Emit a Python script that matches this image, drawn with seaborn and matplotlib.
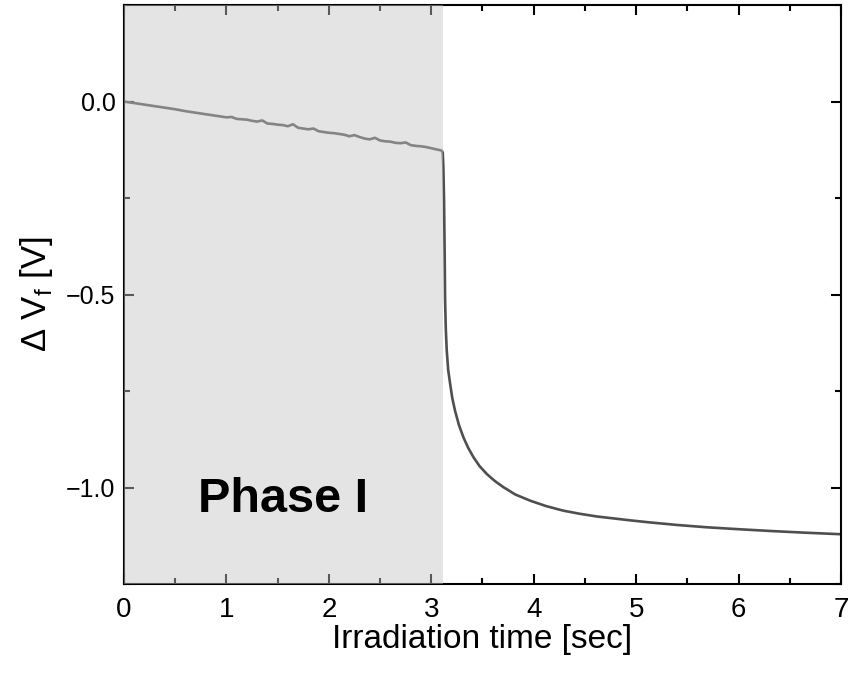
import numpy as np
import pandas as pd
import matplotlib
matplotlib.use("Agg")
import matplotlib.pyplot as plt
from matplotlib.ticker import MultipleLocator
import seaborn as sns

# ---- data ----
time_s = [0.00, 0.10, 0.20, 0.30, 0.40, 0.50, 0.60, 0.70, 0.80, 0.90,
          1.00, 1.05, 1.10, 1.15, 1.20, 1.25, 1.30, 1.35, 1.40, 1.45,
          1.50, 1.55, 1.60, 1.65, 1.70, 1.75, 1.80, 1.85, 1.90, 1.95,
          2.00, 2.05, 2.10, 2.15, 2.20, 2.25, 2.30, 2.35, 2.40, 2.45,
          2.50, 2.55, 2.60, 2.65, 2.70, 2.75, 2.80, 2.85, 2.90, 2.95,
          3.00, 3.05, 3.10,
          3.112, 3.118, 3.125, 3.131, 3.135, 3.142, 3.151, 3.165, 3.184, 3.205,
          3.232, 3.27, 3.314, 3.36, 3.411, 3.47, 3.542, 3.62, 3.704, 3.82,
          3.965, 4.12, 4.29, 4.45, 4.616, 4.78, 4.941, 5.12, 5.40, 5.69,
          6.00, 6.34, 6.65, 7.00]
delta_vf = [0.000, -0.004, -0.008, -0.012, -0.016, -0.020, -0.025, -0.029, -0.033, -0.037,
            -0.041, -0.040, -0.045, -0.046, -0.047, -0.050, -0.052, -0.049, -0.057, -0.058,
            -0.060, -0.061, -0.064, -0.059, -0.068, -0.070, -0.072, -0.070, -0.077, -0.079,
            -0.081, -0.082, -0.084, -0.086, -0.090, -0.087, -0.092, -0.096, -0.098, -0.094,
            -0.101, -0.103, -0.104, -0.107, -0.108, -0.106, -0.113, -0.115, -0.116, -0.118,
            -0.121, -0.124, -0.127,
            -0.132, -0.170, -0.260, -0.400, -0.516, -0.590, -0.645, -0.695, -0.731, -0.768,
            -0.801, -0.838, -0.870, -0.897, -0.921, -0.944, -0.965, -0.983, -0.999, -1.018,
            -1.034, -1.048, -1.060, -1.068, -1.075, -1.080, -1.085, -1.090, -1.097, -1.103,
            -1.108, -1.113, -1.117, -1.121]

phase1_end = 3.115
x_ticks = [0, 1, 2, 3, 4, 5, 6, 7]
y_ticks = [0.0, -0.5, -1.0]
y_tick_labels = ["0.0", "\u22120.5", "\u22121.0"]

df = pd.DataFrame({"t": time_s, "dv": delta_vf})

sns.set_theme(style="ticks")
plt.rcParams["font.family"] = ["Liberation Sans", "DejaVu Sans"]
plt.rcParams["mathtext.fontset"] = "custom"
plt.rcParams["mathtext.rm"] = "Liberation Sans"

fig = plt.figure(figsize=(8.49, 6.78), dpi=100)
ax = fig.add_axes([0.146, 0.1386, 0.8446, 0.854])

sns.lineplot(data=df, x="t", y="dv", ax=ax, color="#4f4f4f", linewidth=1.9,
             estimator=None, sort=False, zorder=2)

ax.axvspan(0, phase1_end, color="#c4c4c4", alpha=0.454, lw=0, zorder=3)

ax.text(1.55, -1.03, "Phase I", fontsize=35, fontweight="bold",
        ha="center", va="center", color="black", zorder=4)

ax.set_xlim(0, 7)
ax.set_ylim(-1.25, 0.25)
ax.set_xticks(x_ticks)
ax.set_xticklabels([str(v) for v in x_ticks], fontsize=20, color="black")
ax.set_yticks(y_ticks)
ax.set_yticklabels(y_tick_labels, fontsize=18, color="black")
ax.xaxis.set_minor_locator(MultipleLocator(0.5))
ax.yaxis.set_minor_locator(MultipleLocator(0.25))

ax.tick_params(which="both", direction="in", top=True, right=True,
               color="black", width=1.5)
ax.tick_params(which="major", length=7)
ax.tick_params(axis="x", which="major", pad=9)
ax.tick_params(axis="y", which="major", pad=6)
ax.tick_params(which="minor", length=4)

for s in ax.spines.values():
    s.set_color("black")
    s.set_linewidth(1.5)

ax.set_xlabel("Irradiation time [sec]", fontsize=24, color="black", labelpad=1)
ax.set_ylabel(r"$\Delta$ V$_\mathrm{f}$ [V]", fontsize=25, color="black", labelpad=8)

fig.savefig("out.png", dpi=100)
